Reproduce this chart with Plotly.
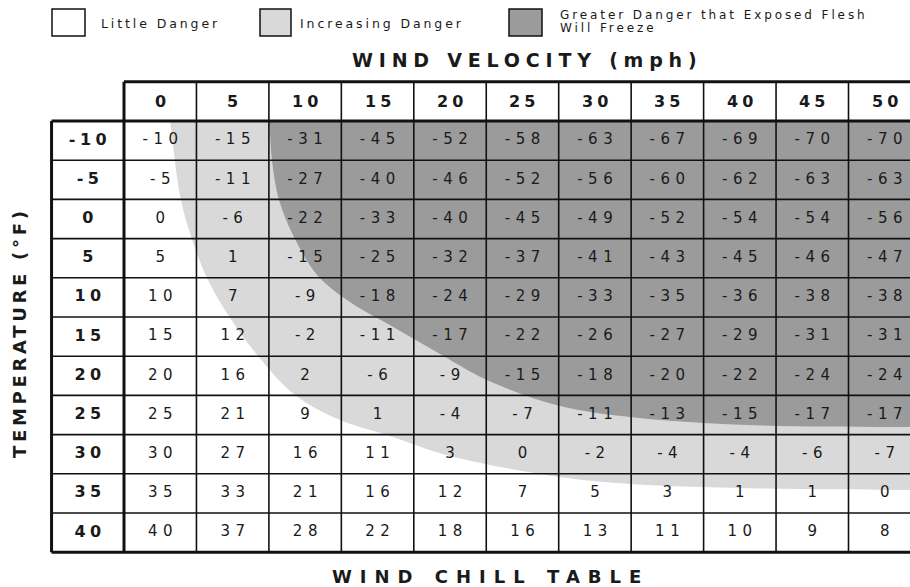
import plotly.graph_objects as go

# ---------------- data ----------------
winds = [0, 5, 10, 15, 20, 25, 30, 35, 40, 45, 50]          # mph (columns)
temps = [-10, -5, 0, 5, 10, 15, 20, 25, 30, 35, 40]         # deg F (rows)
chill = [
    [-10, -15, -31, -45, -52, -58, -63, -67, -69, -70, -70],
    [-5, -11, -27, -40, -46, -52, -56, -60, -62, -63, -63],
    [0, -6, -22, -33, -40, -45, -49, -52, -54, -54, -56],
    [5, 1, -15, -25, -32, -37, -41, -43, -45, -46, -47],
    [10, 7, -9, -18, -24, -29, -33, -35, -36, -38, -38],
    [15, 12, -2, -11, -17, -22, -26, -27, -29, -31, -31],
    [20, 16, 2, -6, -9, -15, -18, -20, -22, -24, -24],
    [25, 21, 9, 1, -4, -7, -11, -13, -15, -17, -17],
    [30, 27, 16, 11, 3, 0, -2, -4, -4, -6, -7],
    [35, 33, 21, 16, 12, 7, 5, 3, 1, 1, 0],
    [40, 37, 28, 22, 18, 16, 13, 11, 10, 9, 8],
]

# danger-zone boundaries (wind mph, temperature F)
inc_wind = [0.67, 1.43, 2.19, 3.23, 4.82, 6.75, 9.30, 12.41, 15.86, 20.00,
            27.59, 32.42, 37.46, 44.15, 51.74]
inc_temp = [-12.5, -2.42, 2.55, 7.53, 12.63, 17.47, 22.45, 25.64, 27.68, 30.23,
            32.91, 33.80, 34.18, 34.44, 34.57]
frz_wind = [7.51, 7.71, 8.20, 9.30, 10.89, 13.10, 16.20, 19.31, 22.55, 27.59,
            32.42, 37.46, 42.77, 51.74]
frz_temp = [-12.5, -7.53, -2.42, 2.55, 7.27, 10.59, 13.90, 17.22, 20.54, 23.85,
            25.26, 26.02, 26.40, 26.53]

legend_labels = ["Little Danger", "Increasing Danger",
                 "Greater Danger that Exposed Flesh", "Will Freeze"]
x_title = "WIND VELOCITY (mph)"
y_title = "TEMPERATURE (\u00b0F)"
main_title = "WIND CHILL TABLE"

# ---------------- style ----------------
FONT = "DejaVu Sans"
WHITE, LIGHT, DARK = "#ffffff", "#d9d9d9", "#9b9b9b"
INK = "#1a1a1a"


def spaced(s, sp):
    s = str(s)
    if len(s) < 2:
        return s
    return '<span style="letter-spacing:%spx">%s</span>%s' % (sp, s[:-1], s[-1])


step = winds[1] - winds[0]
half = step / 2.0
w_lo, w_hi = winds[0] - half, winds[-1] + half
t_lo, t_hi = temps[0] - half, temps[-1] + half
lab_w = winds[0] - step            # row-label column centre
head_t = temps[0] - step           # header-row centre
far = w_hi + 20
top_hidden = head_t - 1            # inside header row (masked)


def region(ws, ts):
    xs = [ws[0] - 0.3] + ws + [ws[-1] + 8, far, far]
    ys = [top_hidden] + ts + [ts[-1], ts[-1], top_hidden]
    return xs, ys


fig = go.Figure()

xs, ys = region(inc_wind, inc_temp)
fig.add_trace(go.Scatter(x=xs, y=ys, mode="lines", fill="toself",
                         fillcolor=LIGHT, line=dict(width=0, shape="spline"),
                         hoverinfo="skip", showlegend=False))
xs, ys = region(frz_wind, frz_temp)
fig.add_trace(go.Scatter(x=xs, y=ys, mode="lines", fill="toself",
                         fillcolor=DARK, line=dict(width=0, shape="spline"),
                         hoverinfo="skip", showlegend=False))

# cell values
cx, cy, ct = [], [], []
for i, t in enumerate(temps):
    for j, w in enumerate(winds):
        cx.append(w)
        cy.append(t)
        ct.append(spaced(chill[i][j], 5.5))
fig.add_trace(go.Scatter(x=cx, y=cy, mode="text", text=ct,
                         textposition="middle center",
                         textfont=dict(family=FONT, size=15, color=INK),
                         hoverinfo="skip", showlegend=False))

# row labels
fig.add_trace(go.Scatter(x=[lab_w] * len(temps), y=temps, mode="text",
                         text=[spaced(t, 4.5) for t in temps],
                         textposition="middle center",
                         textfont=dict(family=FONT, size=16, color=INK, weight="bold"),
                         hoverinfo="skip", showlegend=False))

shapes = []
# header row background (white)
shapes.append(dict(type="rect", xref="x", yref="y", x0=w_lo, x1=far,
                   y0=head_t - half, y1=head_t + half, fillcolor=WHITE,
                   line=dict(width=0), layer="above"))
thin = dict(color="#111111", width=1.6)
thick = dict(color="#111111", width=3)
for w in winds[:-1]:
    shapes.append(dict(type="line", xref="x", yref="y", x0=w + half, x1=w + half,
                       y0=head_t - half, y1=t_hi, line=thin, layer="above"))
for t in temps[:-1]:
    shapes.append(dict(type="line", xref="x", yref="y", x0=lab_w - half, x1=far,
                       y0=t + half, y1=t + half, line=thin, layer="above"))
shapes += [
    dict(type="line", xref="x", yref="y", x0=w_lo, x1=w_lo, y0=head_t - half, y1=t_hi,
         line=thick, layer="above"),
    dict(type="line", xref="x", yref="y", x0=lab_w - half, x1=lab_w - half, y0=t_lo, y1=t_hi,
         line=thick, layer="above"),
    dict(type="line", xref="x", yref="y", x0=w_lo, x1=far, y0=head_t - half, y1=head_t - half,
         line=thick, layer="above"),
    dict(type="line", xref="x", yref="y", x0=lab_w - half, x1=far, y0=t_lo, y1=t_lo,
         line=thick, layer="above"),
    dict(type="line", xref="x", yref="y", x0=lab_w - half, x1=far, y0=t_hi, y1=t_hi,
         line=thick, layer="above"),
]

# legend boxes (paper coordinates)
W, H = 910, 587
for (x0, x1), col in zip([(52, 85), (260, 291), (509, 542)], [WHITE, LIGHT, DARK]):
    shapes.append(dict(type="rect", xref="paper", yref="paper",
                       x0=x0 / W, x1=x1 / W, y0=1 - 36 / H, y1=1 - 9 / H,
                       fillcolor=col, line=dict(color="#111111", width=1.5)))

annotations = []
for w in winds:
    annotations.append(dict(x=w, y=head_t, xref="x", yref="y", text=spaced(w, 4),
                            showarrow=False, xanchor="center", yanchor="middle",
                            font=dict(family=FONT, size=16, color=INK, weight="bold")))

leg_pos = [(99, 23), (298, 23), (558, 15), (558, 28)]
for lab, (px, py) in zip(legend_labels, leg_pos):
    size = 12 if py != 23 else 12.5
    annotations.append(dict(x=px / W, y=1 - py / H, xref="paper", yref="paper",
                            text='<span style="letter-spacing:2.9px">%s</span>' % lab,
                            showarrow=False, xanchor="left", yanchor="middle",
                            font=dict(family=FONT, size=size, color=INK)))

annotations.append(dict(x=524 / W, y=1 - 60 / H, xref="paper", yref="paper",
                        text=spaced(x_title, 5.8), showarrow=False,
                        xanchor="center", yanchor="middle",
                        font=dict(family=FONT, size=19, color=INK, weight="bold")))
annotations.append(dict(x=486 / W, y=1 - 576 / H, xref="paper", yref="paper",
                        text=spaced(main_title, 8), showarrow=False,
                        xanchor="center", yanchor="middle",
                        font=dict(family=FONT, size=18, color=INK, weight="bold")))
annotations.append(dict(x=19 / W, y=1 - 335 / H, xref="paper", yref="paper",
                        text=spaced(y_title, 3.7), showarrow=False, textangle=-90,
                        xanchor="center", yanchor="middle",
                        font=dict(family=FONT, size=18, color=INK, weight="bold")))

# axis ranges: map table so that columns are ~72.45 px and rows ~39.2 px
col_px, row_px = 72.45, 39.2
x0_px, y0_px = 124, 121        # pixel of left edge of first data column / top of first data row
x_min = w_lo + (0 - x0_px) / col_px * step
x_max = w_lo + (W - x0_px) / col_px * step
y_min = t_lo + (0 - y0_px) / row_px * step
y_max = t_lo + (H - y0_px) / row_px * step

fig.update_layout(
    width=W, height=H, margin=dict(l=0, r=0, t=0, b=0),
    paper_bgcolor="white", plot_bgcolor="white",
    xaxis=dict(range=[x_min, x_max], visible=False, fixedrange=True),
    yaxis=dict(range=[y_max, y_min], visible=False, fixedrange=True),
    shapes=shapes, annotations=annotations, showlegend=False,
)

fig.write_html("out.html",
               config={"displayModeBar": False, "staticPlot": True},
               post_script="document.body.style.margin='0';"
                           "document.body.style.overflow='hidden';")
